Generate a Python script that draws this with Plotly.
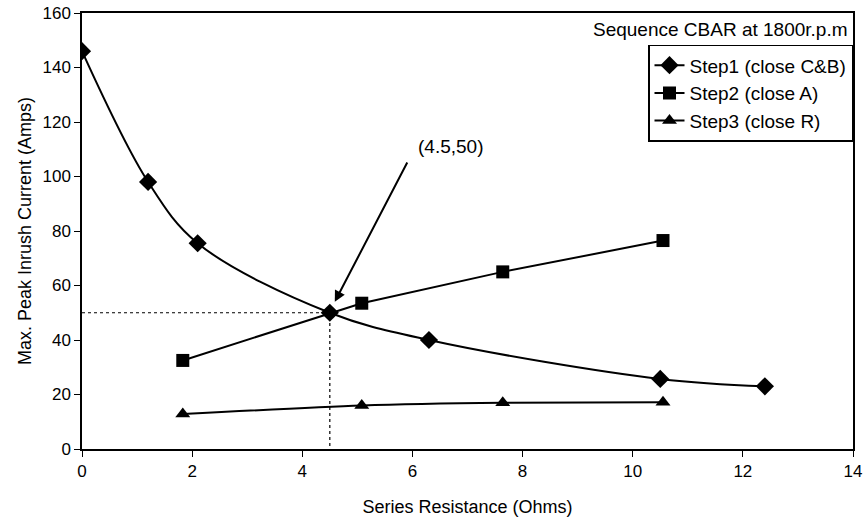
import plotly.graph_objects as go

# Series resistance (Ohms) and peak inrush current (Amps) for each switching step
step1_x = [0, 1.2, 2.1, 4.5, 6.3, 10.5, 12.4]
step1_y = [146, 98, 75.5, 50, 40, 25.7, 23]

step2_x = [1.83, 5.08, 7.64, 10.55]
step2_y = [32.5, 53.5, 65, 76.5]

step3_x = [1.83, 5.08, 7.64, 10.55]
step3_y = [12.8, 16, 17, 17.2]

# Crossing point of step 1 and step 2
cross_x = 4.5
cross_y = 50

x_ticks = [0, 2, 4, 6, 8, 10, 12, 14]
y_ticks = [0, 20, 40, 60, 80, 100, 120, 140, 160]

FONT = "Liberation Sans, Arial, sans-serif"

fig = go.Figure()

# Dashed guide lines to the crossing point
fig.add_trace(go.Scatter(x=[0, cross_x, cross_x], y=[cross_y, cross_y, 0], mode="lines",
                         line=dict(color="black", width=1.2, dash="3px,3px"),
                         showlegend=False, hoverinfo="skip"))

fig.add_trace(go.Scatter(x=step1_x, y=step1_y, mode="lines+markers", name="Step1 (close C&B)",
                         line=dict(color="black", width=2, shape="spline", smoothing=1.0),
                         marker=dict(symbol="diamond", size=14, color="black")))
fig.add_trace(go.Scatter(x=step2_x, y=step2_y, mode="lines+markers", name="Step2 (close A)",
                         line=dict(color="black", width=2),
                         marker=dict(symbol="square", size=13, color="black")))
fig.add_trace(go.Scatter(x=step3_x, y=step3_y, mode="lines+markers", name="Step3 (close R)",
                         line=dict(color="black", width=2, shape="spline", smoothing=0.8),
                         marker=dict(symbol="triangle-up", size=13, color="black")))

# Label and arrow pointing at the crossing point
fig.add_annotation(x=cross_x + 0.09, y=cross_y + 4, ax=5.92, ay=105.7, axref="x", ayref="y",
                   xref="x", yref="y", text="", showarrow=True, arrowhead=2,
                   arrowsize=1.1, arrowwidth=2, arrowcolor="black")
fig.add_annotation(x=6.7, y=111, xref="x", yref="y", text=f"({cross_x},{cross_y})",
                   showarrow=False, font=dict(family=FONT, size=19, color="black"))

fig.add_annotation(x=1, y=1, xref="paper", yref="paper", xanchor="right", yanchor="top",
                   text="Sequence CBAR at 1800r.p.m", showarrow=False,
                   font=dict(family=FONT, size=19, color="black"), xshift=-3, yshift=-4)

axis_common = dict(showline=True, linecolor="black", linewidth=1.5, mirror=True,
                   ticks="outside", ticklen=6, tickcolor="black", showgrid=False,
                   zeroline=False, automargin=False,
                   tickfont=dict(family=FONT, size=17, color="black"))

fig.update_xaxes(range=[0, 14], tickvals=x_ticks, ticktext=[str(v) for v in x_ticks],
                 title=dict(text="Series Resistance (Ohms)", font=dict(family=FONT, size=18, color="black"), standoff=20),
                 **axis_common)
fig.update_yaxes(range=[0, 160], tickvals=y_ticks, ticktext=[str(v) for v in y_ticks],
                 title=dict(text="Max. Peak Inrush Current (Amps)", font=dict(family=FONT, size=18, color="black"), standoff=6),
                 **axis_common)

fig.update_layout(
    width=868, height=524,
    margin=dict(l=82, r=15, t=13, b=75),
    paper_bgcolor="white", plot_bgcolor="white",
    font=dict(family=FONT, size=18, color="black"),
    legend=dict(x=1, y=0.927, xanchor="right", yanchor="top", bgcolor="white",
                bordercolor="black", borderwidth=1.5, tracegroupgap=0, itemwidth=30,
                font=dict(family=FONT, size=19, color="black")),
)

fig.write_html("out.html")
